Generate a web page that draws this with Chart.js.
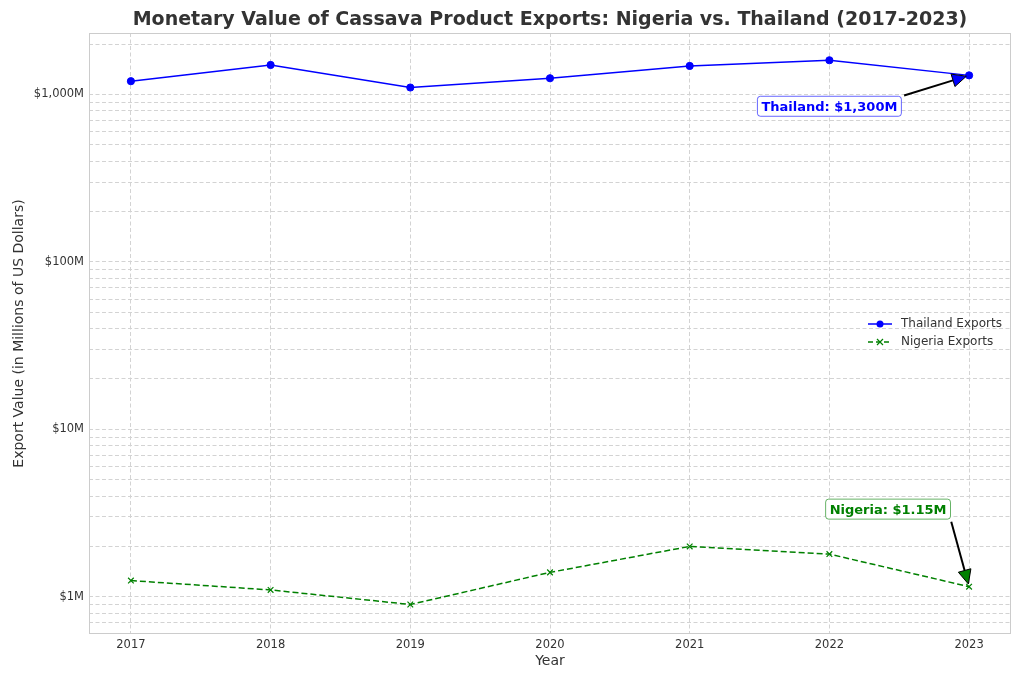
<!DOCTYPE html>
<html lang="en">
<head>
  <meta charset="UTF-8">
  <title>Cassava Exports</title>
  <style>
    body { margin: 0; background: #fff; }
    #wrap { width: 1024px; height: 683px; }
  </style>
  <script src="https://cdn.jsdelivr.net/npm/chart.js"></script>
</head>
<body>
  <div id="wrap"><canvas id="chart" width="1024" height="683"></canvas></div>
  <script>
    const years = [2017, 2018, 2019, 2020, 2021, 2022, 2023];
    const thailand = [1200, 1500, 1100, 1250, 1480, 1600, 1300];
    const nigeria = [1.25, 1.1, 0.9, 1.4, 2.0, 1.8, 1.15];
    const majorTicks = [1, 10, 100, 1000];
    const tickLabels = ['$1M', '$10M', '$100M', '$1,000M'];

    const FONT = "'DejaVu Sans', sans-serif";
    const TXT = '#333333';
    const GRID = '#d3d3d3';

    // minor + major log ticks covering the visible range
    const logTicks = [];
    [0.1, 1, 10, 100, 1000].forEach(d => {
      for (let k = 1; k <= 9; k++) logTicks.push(+(d * k).toPrecision(3));
    });

    const annotations = [
      { text: 'Thailand: $1,300M', color: 'blue', border: 'rgba(0,0,255,0.6)', x: years[6], y: thailand[6], tx: 2022, ty: 850 },
      { text: 'Nigeria: $1.15M', color: 'green', border: 'rgba(0,128,0,0.6)', x: years[6], y: nigeria[6], tx: 2022.42, ty: 3.34 }
    ];

    const extras = {
      id: 'extras',
      afterDatasetsDraw(chart) {
        const ctx = chart.ctx;
        const xs = chart.scales.x, ys = chart.scales.y;
        const a = chart.chartArea;
        ctx.save();
        // frame
        ctx.strokeStyle = '#cccccc';
        ctx.lineWidth = 1;
        ctx.strokeRect(a.left + 0.5, a.top + 0.5, a.right - a.left - 1, a.bottom - a.top - 1);

        // title
        ctx.fillStyle = TXT;
        ctx.font = 'bold 19px ' + FONT;
        ctx.textAlign = 'center';
        ctx.textBaseline = 'middle';
        ctx.fillText('Monetary Value of Cassava Product Exports: Nigeria vs. Thailand (2017-2023)', (a.left + a.right) / 2, 20);

        // legend
        ctx.font = '12px ' + FONT;
        ctx.textAlign = 'left';
        const lx = 868, ly1 = 324, ly2 = 342;
        ctx.strokeStyle = 'blue'; ctx.lineWidth = 1.5;
        ctx.beginPath(); ctx.moveTo(lx, ly1); ctx.lineTo(lx + 24, ly1); ctx.stroke();
        ctx.fillStyle = 'blue';
        ctx.beginPath(); ctx.arc(lx + 12, ly1, 3.5, 0, Math.PI * 2); ctx.fill();
        ctx.strokeStyle = 'green';
        ctx.setLineDash([5, 3]);
        ctx.beginPath(); ctx.moveTo(lx, ly2); ctx.lineTo(lx + 24, ly2); ctx.stroke();
        ctx.setLineDash([]);
        ctx.lineWidth = 1.2;
        ctx.beginPath();
        ctx.moveTo(lx + 9, ly2 - 3); ctx.lineTo(lx + 15, ly2 + 3);
        ctx.moveTo(lx + 15, ly2 - 3); ctx.lineTo(lx + 9, ly2 + 3);
        ctx.stroke();
        ctx.fillStyle = TXT;
        ctx.fillText('Thailand Exports', 901, ly1);
        ctx.fillText('Nigeria Exports', 901, ly2);

        // annotations
        ctx.font = 'bold 13px ' + FONT;
        annotations.forEach(an => {
          const cx = xs.getPixelForValue(an.tx), cy = ys.getPixelForValue(an.ty);
          const px = xs.getPixelForValue(an.x), py = ys.getPixelForValue(an.y);
          const w = ctx.measureText(an.text).width + 8, h = 20;
          const bx0 = cx - w / 2, by0 = cy - h / 2;
          // arrow start: closest corner / edge midpoint of the box
          const cand = (lo, hi, t) => [lo, (lo + hi) / 2, hi].reduce((b, v) => Math.abs(v - t) < Math.abs(b - t) ? v : b);
          let sx = cand(bx0, bx0 + w, px), sy = cand(by0, by0 + h, py);
          const dx = px - sx, dy = py - sy, len = Math.hypot(dx, dy);
          const ux = dx / len, uy = dy / len;
          sx += ux * len * 0.04; sy += uy * len * 0.04;
          const ex = px - ux * len * 0.04, ey = py - uy * len * 0.04;
          const hl = 14, hw = 6.5;
          const bxh = ex - ux * hl, byh = ey - uy * hl;
          ctx.strokeStyle = '#000'; ctx.lineWidth = 2;
          ctx.beginPath(); ctx.moveTo(sx, sy); ctx.lineTo(bxh, byh); ctx.stroke();
          ctx.beginPath();
          ctx.moveTo(ex, ey);
          ctx.lineTo(bxh - uy * hw, byh + ux * hw);
          ctx.lineTo(bxh + uy * hw, byh - ux * hw);
          ctx.closePath();
          ctx.fillStyle = an.color; ctx.fill();
          ctx.lineWidth = 1; ctx.stroke();
          // box
          ctx.beginPath();
          ctx.roundRect(bx0, by0, w, h, 3);
          ctx.fillStyle = '#fff'; ctx.fill();
          ctx.strokeStyle = an.border; ctx.lineWidth = 1; ctx.stroke();
          ctx.fillStyle = an.color;
          ctx.textAlign = 'center';
          ctx.fillText(an.text, cx, cy + 1);
        });
        ctx.restore();
      }
    };

    new Chart(document.getElementById('chart'), {
      type: 'line',
      data: {
        datasets: [
          {
            label: 'Thailand Exports',
            data: years.map((y, i) => ({ x: y, y: thailand[i] })),
            borderColor: 'blue',
            backgroundColor: 'blue',
            borderWidth: 1.5,
            pointRadius: 3.6,
            pointBorderWidth: 1,
            pointStyle: 'circle',
            tension: 0
          },
          {
            label: 'Nigeria Exports',
            data: years.map((y, i) => ({ x: y, y: nigeria[i] })),
            borderColor: 'green',
            backgroundColor: 'green',
            borderWidth: 1.5,
            borderDash: [6, 3],
            pointRadius: 4,
            pointStyle: 'crossRot',
            pointBorderWidth: 1.2,
            tension: 0
          }
        ]
      },
      options: {
        responsive: false,
        animation: false,
        layout: { padding: { top: 33, right: 13, bottom: 0, left: 0 } },
        plugins: {
          legend: { display: false },
          tooltip: { enabled: false }
        },
        scales: {
          x: {
            type: 'linear',
            min: 2016.7,
            max: 2023.3,
            afterBuildTicks: s => { s.ticks = years.map(v => ({ value: v })); },
            afterFit: s => { s.height = 49; },
            ticks: {
              callback: v => String(v),
              color: TXT,
              font: { family: FONT, size: 11.5 },
              padding: 4
            },
            grid: { color: GRID, drawTicks: false, lineWidth: 1 },
            border: { display: false, dash: [4, 2.5] },
            title: {
              display: true,
              text: 'Year',
              color: TXT,
              font: { family: FONT, size: 14 },
              padding: { top: 0, bottom: 13 }
            }
          },
          y: {
            type: 'logarithmic',
            min: 0.619,
            max: 2328,
            afterBuildTicks: s => { s.ticks = logTicks.filter(v => v >= 0.619 && v <= 2328).map(v => ({ value: v })); },
            afterFit: s => { s.width = 89; },
            ticks: {
              autoSkip: false,
              callback: v => {
                const i = majorTicks.findIndex(m => Math.abs(m - v) < 1e-6);
                return i >= 0 ? tickLabels[i] : '';
              },
              color: TXT,
              font: { family: FONT, size: 11.5 },
              padding: 5
            },
            grid: { color: GRID, drawTicks: false, lineWidth: 1 },
            border: { display: false, dash: [4, 2.5] },
            title: {
              display: true,
              text: 'Export Value (in Millions of US Dollars)',
              color: TXT,
              font: { family: FONT, size: 14 },
              padding: { top: 11, bottom: 0 }
            }
          }
        }
      },
      plugins: [extras]
    });
  </script>
</body>
</html>
